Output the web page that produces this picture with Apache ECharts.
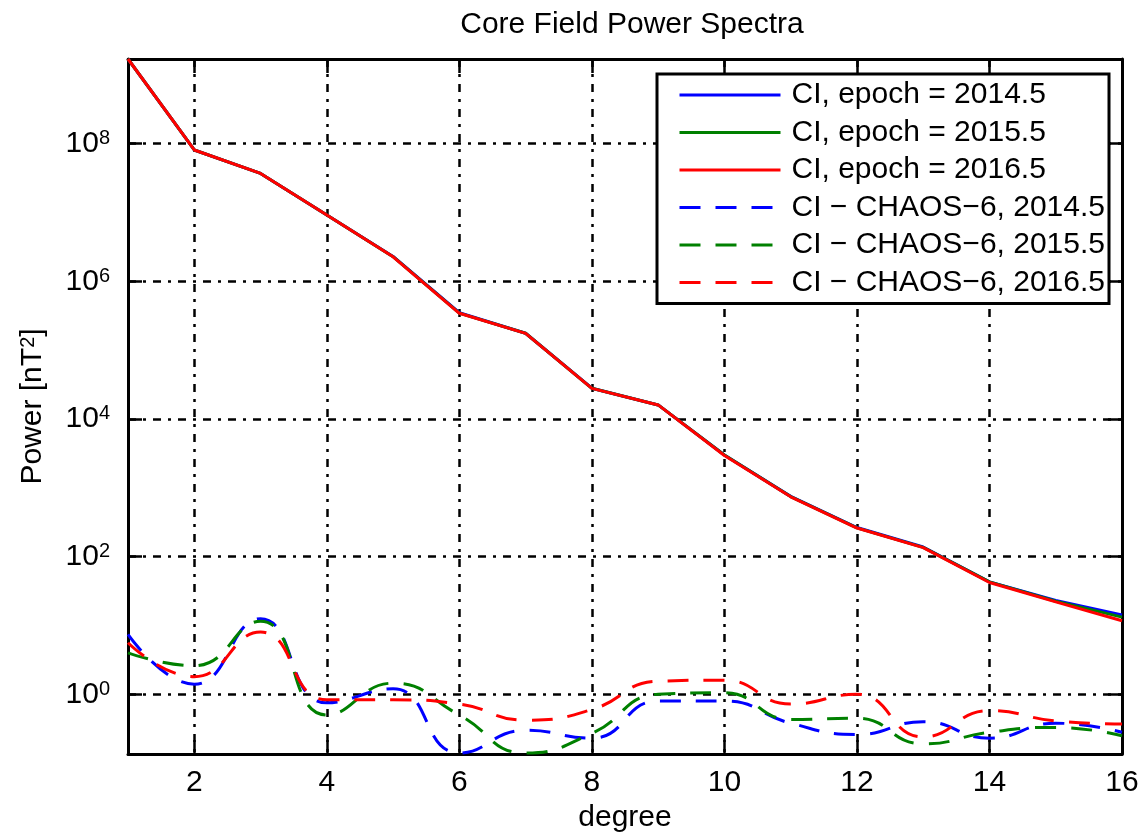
<!DOCTYPE html>
<html>
<head>
<meta charset="utf-8">
<script src="https://cdn.jsdelivr.net/npm/echarts@6/dist/echarts.min.js"></script>
<style>
html,body{margin:0;padding:0;background:#ffffff;}
#chart{width:1143px;height:832px;}
</style>
</head>
<body>
<div id="chart"></div>
<script>
// ---------------- data ----------------
const degrees = [1, 2, 3, 4, 5, 6, 7, 8, 9, 10, 11, 12, 13, 14, 15, 16];

// CI core-field power spectra
const ciEpoch2014 = [1.7e9, 8.1e7, 3.7e7, 9.2e6, 2.3e6, 3.5e5, 1.76e5, 2.8e4, 1.6e4, 3.0e3, 7.5e2, 2.65e2, 1.38e2, 43, 23, 14.2];
const ciEpoch2015 = [1.7e9, 8.1e7, 3.7e7, 9.2e6, 2.28e6, 3.45e5, 1.76e5, 2.79e4, 1.6e4, 3.0e3, 7.45e2, 2.62e2, 1.36e2, 43, 22.5, 13.2];
const ciEpoch2016 = [1.7e9, 8.1e7, 3.7e7, 9.2e6, 2.27e6, 3.43e5, 1.75e5, 2.78e4, 1.6e4, 2.95e3, 7.4e2, 2.6e2, 1.35e2, 42, 22, 11.7];

// CI - CHAOS-6 difference spectra
const diffChaos2014 = [7.4, 1.4, 12.5, 0.75, 1.2, 0.14, 0.3, 0.23, 0.8, 0.8, 0.38, 0.26, 0.4, 0.23, 0.38, 0.28];
const diffChaos2015 = [4.0, 2.6, 11.5, 0.5, 1.45, 0.5, 0.14, 0.27, 1.0, 1.05, 0.43, 0.45, 0.19, 0.28, 0.33, 0.25];
const diffChaos2016 = [5.6, 1.8, 8.0, 0.83, 0.83, 0.72, 0.42, 0.6, 1.55, 1.6, 0.72, 1.0, 0.24, 0.58, 0.41, 0.37];

const legendLabels = [
  'CI, epoch = 2014.5',
  'CI, epoch = 2015.5',
  'CI, epoch = 2016.5',
  'CI \u2212 CHAOS\u22126, 2014.5',
  'CI \u2212 CHAOS\u22126, 2015.5',
  'CI \u2212 CHAOS\u22126, 2016.5'
];
const xTickValues = [2, 4, 6, 8, 10, 12, 14, 16];
const xRange = [1, 16];
const yRange = [0.1355, 1.7e9];
const titleText = 'Core Field Power Spectra';
const xName = 'degree';
const yName = 'Power [nT{s|2}]';

// ---------------- chart ----------------
const FONT = '"Liberation Sans", Arial, Helvetica, sans-serif';
const BLUE = '#0000ff', GREEN = '#008000', RED = '#ff0000';
const DASH = [21, 15];
const GRID_DASH = [8, 7, 3, 7];

function pairs(vals) { return degrees.map((d, i) => [d, vals[i]]); }

function lineSeries(name, vals, color, dashed) {
  return {
    name: name,
    type: 'line',
    data: pairs(vals),
    showSymbol: false,
    symbol: 'none',
    smooth: dashed ? 0.5 : false,
    clip: true,
    lineStyle: { color: color, width: 3, type: dashed ? DASH : 'solid' },
    itemStyle: { color: color },
    emphasis: { disabled: true },
    silent: true
  };
}

const tickStyle = { show: true, inside: true, length: 14, lineStyle: { color: '#000', width: 2.5 } };
const axisLineStyle = { show: true, onZero: false, lineStyle: { color: '#000', width: 3 } };

function yLabelFormatter(v) {
  const e = Math.log10(v);
  const r = Math.round(e);
  if (Math.abs(e - r) > 1e-6) return '';
  return '{b|10}{s|' + r + '}';
}

const chart = echarts.init(document.getElementById('chart'), null, { renderer: 'canvas' });
chart.setOption({
  animation: false,
  backgroundColor: '#ffffff',
  title: {
    text: titleText,
    left: 627,
    top: 5,
    textAlign: 'center',
    textStyle: { fontFamily: FONT, fontSize: 30, fontWeight: 'normal', color: '#000' }
  },
  grid: { left: 128, right: 21, top: 59, bottom: 78, containLabel: false, outerBoundsMode: 'none' },
  legend: {
    orient: 'vertical',
    left: 657,
    top: 74,
    padding: [6, 4, 6, 21],
    itemWidth: 101,
    itemHeight: 14,
    itemGap: 7.5,
    backgroundColor: '#ffffff',
    borderColor: '#000',
    borderWidth: 3,
    borderRadius: 0,
    selectedMode: false,
    itemStyle: { opacity: 0, color: 'rgba(0,0,0,0)', borderWidth: 0 },
    lineStyle: { width: 3 },
    textStyle: { fontFamily: FONT, fontSize: 30, color: '#000', lineHeight: 30, padding: [0, 0, 0, 6] },
    data: legendLabels
  },
  xAxis: [
    {
      type: 'value', min: xRange[0], max: xRange[1], position: 'bottom', splitNumber: 7,
      axisLine: axisLineStyle,
      axisTick: Object.assign({ customValues: xTickValues }, tickStyle),
      axisLabel: { customValues: xTickValues, color: '#000', fontFamily: FONT, fontSize: 30, margin: 14 },
      splitLine: { show: true, lineStyle: { color: '#000', width: 2.5, type: GRID_DASH } },
      name: xName, nameLocation: 'middle', nameGap: 44,
      nameTextStyle: { fontFamily: FONT, fontSize: 30, color: '#000' }
    },
    {
      type: 'value', min: xRange[0], max: xRange[1], position: 'top', splitNumber: 7,
      axisLine: axisLineStyle,
      axisTick: Object.assign({ customValues: xTickValues }, tickStyle),
      axisLabel: { show: false },
      splitLine: { show: false }
    }
  ],
  yAxis: [
    {
      type: 'log', logBase: 100, min: yRange[0], max: yRange[1], position: 'left',
      axisLine: axisLineStyle,
      axisTick: tickStyle,
      minorTick: { show: false },
      axisLabel: {
        formatter: yLabelFormatter, margin: 18, color: '#000',
        rich: {
          b: { fontFamily: FONT, fontSize: 30, lineHeight: 30, color: '#000', padding: [12, 0, 12, 0] },
          s: { fontFamily: FONT, fontSize: 20, lineHeight: 20, color: '#000', verticalAlign: 'top' }
        }
      },
      splitLine: { show: true, lineStyle: { color: '#000', width: 2.5, type: GRID_DASH } },
      name: yName, nameLocation: 'middle', nameGap: 80,
      nameTextStyle: {
        fontFamily: FONT, fontSize: 30, color: '#000',
        rich: {
          s: { fontFamily: FONT, fontSize: 20, lineHeight: 20, color: '#000', verticalAlign: 'top' }
        }
      }
    },
    {
      type: 'log', logBase: 100, min: yRange[0], max: yRange[1], position: 'right',
      axisLine: axisLineStyle,
      axisTick: tickStyle,
      minorTick: { show: false },
      axisLabel: { show: false },
      splitLine: { show: false }
    }
  ],
  series: [
    lineSeries(legendLabels[0], ciEpoch2014, BLUE, false),
    lineSeries(legendLabels[1], ciEpoch2015, GREEN, false),
    lineSeries(legendLabels[2], ciEpoch2016, RED, false),
    lineSeries(legendLabels[3], diffChaos2014, BLUE, true),
    lineSeries(legendLabels[4], diffChaos2015, GREEN, true),
    lineSeries(legendLabels[5], diffChaos2016, RED, true)
  ]
});
</script>
</body>
</html>
